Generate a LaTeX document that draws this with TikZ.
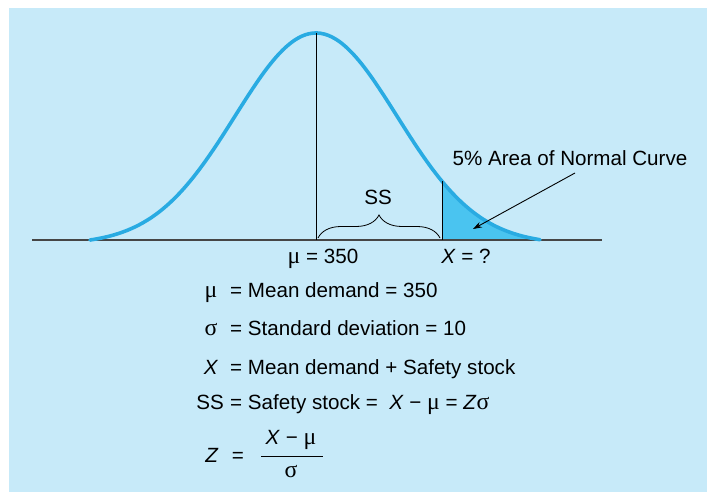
\documentclass[tikz,border=0pt]{standalone}
\usepackage{fontspec}
\setmainfont{Liberation Sans}
\newfontfamily\greekfont[Scale=1.15]{Liberation Serif}
\usepackage{tikz}
\usetikzlibrary{
    arrows.meta,
    positioning,
    decorations.pathreplacing
}
\definecolor{panelblue}{RGB}{199,234,249}
\definecolor{curveblue}{RGB}{41,171,226}
\definecolor{tailblue}{RGB}{74,196,240}
\definecolor{axisgray}{RGB}{70,70,70}
\newcommand{\gmu}{{\greekfont μ}}
\newcommand{\gsigma}{{\greekfont σ}}
\tikzstyle{label} = [
    inner sep=0pt,
    font=\fontsize{20.6}{24}\selectfont
]
\tikzstyle{curve} = [
    draw=curveblue,
    line width=3.6pt,
    line cap=round
]
\tikzstyle{marker} = [
    draw=black,
    line width=0.9pt
]
\tikzstyle{arrow} = [
    -{Stealth[length=9pt,width=6pt]},
    line width=0.9pt,
    draw=black
]

\begin{document}
\begin{tikzpicture}[x=1pt, y=-1pt,
    declare function={bell(\t)=240-207*(exp(-((\t-316)/81)^2/2)-0.0204)/0.9796;}]
    \useasboundingbox (0,0) rectangle (707,492);
    \fill[panelblue] (9,8) rectangle (707,492);

    % Axis and points on it
    \coordinate (axisleft) at (32,240);
    \coordinate (axisright) at (602,240);
    \coordinate (mean) at (316,240);
    \coordinate (peak) at (316,33);
    \coordinate (xbase) at (442,240);
    \coordinate (xtop) at (442,{bell(442)});

    % Shaded tail
    \fill[tailblue] (xbase) -- plot[smooth, domain=442:540, samples=40]
        (\x, {bell(\x)}) -- (540,240) -- cycle;

    \draw[axisgray, line width=1.3pt] (axisleft) -- (axisright);

    % Normal curve
    \draw[curve] plot[smooth, domain=90:540, samples=120] (\x, {bell(\x)});

    \draw[marker] (peak) -- (mean);
    \draw[marker] (xtop) -- (xbase);

    % Brace for safety stock
    \coordinate (braceleft) at (318,238);
    \coordinate (braceright) at (440,238);
    \draw[marker, line width=0.8pt, decorate,
        decoration={brace, amplitude=23pt}] (braceleft) -- (braceright);
    \node[label] (sslabel) at (378,197) {SS};

    % Axis labels
    \node[label, anchor=base] (meanlabel) at (323,263) {\gmu\ = 350};
    \node[label, anchor=base] (xlabel) at (466,263) {\textit{X} = ?};

    % Tail area label
    \node[label] (area) at (570,158) {5\% Area of Normal Curve};
    \coordinate (areatail) at (575,173);
    \coordinate (areatip) at (473,229);
    \draw[arrow] (areatail) -- (areatip);

    % Definitions
    \node[label, anchor=base] (musym) at (211,297) {\gmu};
    \node[label, anchor=base west] (mudef) at (230,297) {= Mean demand = 350};
    \node[label, anchor=base] (sigsym) at (211,335) {\gsigma};
    \node[label, anchor=base west] (sigdef) at (230,335) {= Standard deviation = 10};
    \node[label, anchor=base] (xsym) at (211,374) {\textit{X}};
    \node[label, anchor=base west] (xdef) at (230,374) {= Mean demand + Safety stock};
    \node[label, anchor=base east] (sssym) at (224,409) {SS};
    \node[label, anchor=base west] (ssdef) at (230,409)
        {= Safety stock = \ \textit{X} − \gmu\ = \textit{Z}\gsigma};

    % Z formula
    \node[label, anchor=base] (zsym) at (212,462) {\textit{Z}};
    \node[label, anchor=base] (zeq) at (238,462) {=};
    \node[label, anchor=base] (znum) at (291,444) {\textit{X} − \gmu};
    \node[label] (zbar) at (292,456) {\rule{62pt}{0.8pt}};
    \node[label, anchor=base] (zden) at (291,477) {\gsigma};
\end{tikzpicture}
\end{document}
